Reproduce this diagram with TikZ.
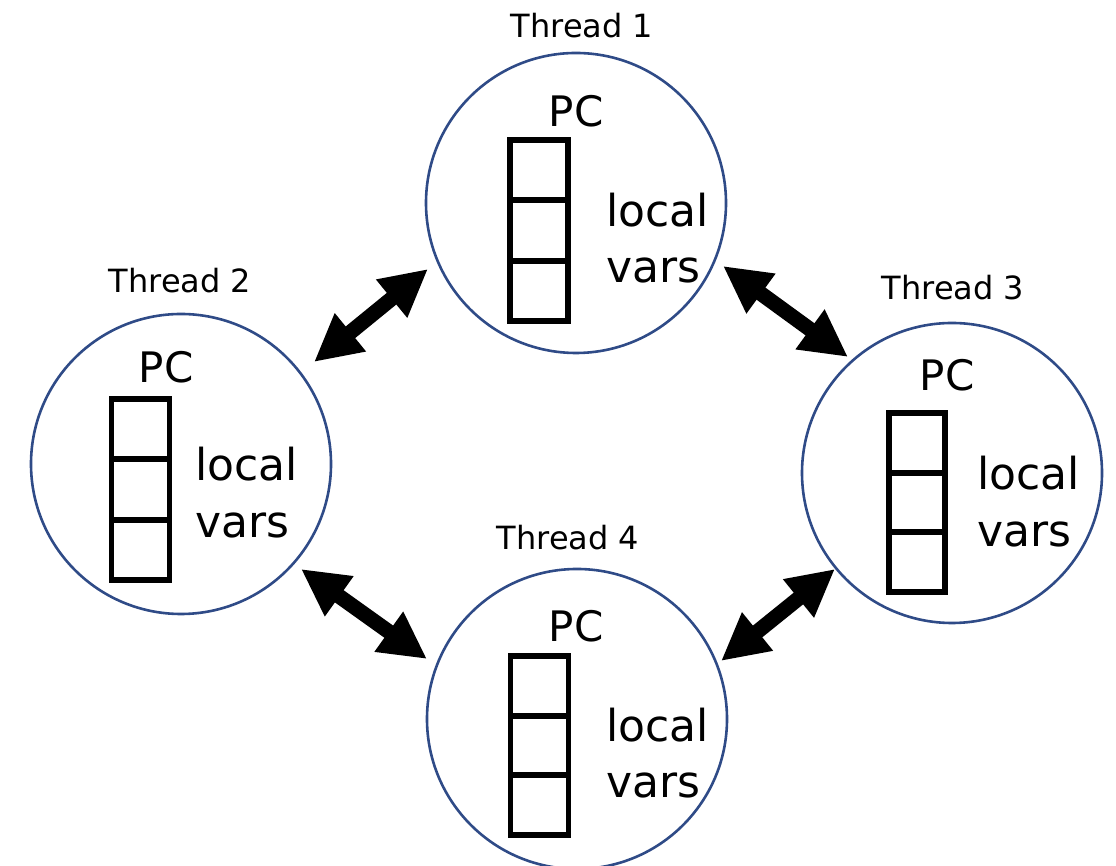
\documentclass[tikz,border=0pt]{standalone}
\usepackage{fontspec}
\setmainfont{DejaVu Sans}
\usetikzlibrary{arrows.meta}
\definecolor{ringblue}{RGB}{47,75,135}
\begin{document}
\begin{tikzpicture}[x=1pt,y=1pt,
  ring/.style={circle,draw=ringblue,line width=2.6pt,minimum size=300pt,inner sep=0pt},
  cell/.style={draw=black,line width=5.5pt,minimum width=58pt,minimum height=60pt,inner sep=0pt},
  title/.style={anchor=base,inner sep=0pt,font=\fontsize{32}{38}\selectfont},
  pclabel/.style={anchor=base,inner sep=0pt,font=\fontsize{42}{50}\selectfont},
  varlabel/.style={anchor=base west,inner sep=0pt,font=\fontsize{44}{52}\selectfont},
  link/.style={line width=15pt,{Triangle[length=47pt,width=46pt]}-{Triangle[length=47pt,width=46pt]}}
]
\useasboundingbox (0,0) rectangle (1116,866);
% circles
\node[ring] (t1) at (576,663) {};
\node[ring] (t2) at (181,402) {};
\node[ring] (t3) at (952,393) {};
\node[ring] (t4) at (577,147) {};
% titles
\node[title] (t1n) at (582,828) {Thread 1};
\node[title] (t2n) at (180,573) {Thread 2};
\node[title] (t3n) at (953,566) {Thread 3};
\node[title] (t4n) at (568,316) {Thread 4};
% PC labels
\node[pclabel] (t1pc) at (576,739) {PC};
\node[pclabel] (t2pc) at (166,483) {PC};
\node[pclabel] (t3pc) at (947,475) {PC};
\node[pclabel] (t4pc) at (576,224) {PC};
% stacks
\node[cell] (t1c1) at (539,695.8) {};
\node[cell] (t1c2) at (539,635.5) {};
\node[cell] (t1c3) at (539,575.2) {};
\node[cell] (t2c1) at (140.5,436.8) {};
\node[cell] (t2c2) at (140.5,376.5) {};
\node[cell] (t2c3) at (140.5,316.2) {};
\node[cell,minimum width=56pt] (t3c1) at (917,423.2) {};
\node[cell,minimum width=56pt] (t3c2) at (917,363.5) {};
\node[cell,minimum width=56pt] (t3c3) at (917,303.8) {};
\node[cell] (t4c1) at (539.5,180.2) {};
\node[cell] (t4c2) at (539.5,120.5) {};
\node[cell] (t4c3) at (539.5,60.8) {};
% local vars
\node[varlabel] (t1l) at (606,639) {local};
\node[varlabel] (t1v) at (606,583) {vars};
\node[varlabel] (t2l) at (195,385) {local};
\node[varlabel] (t2v) at (195,328) {vars};
\node[varlabel] (t3l) at (977,376) {local};
\node[varlabel] (t3v) at (977,319) {vars};
\node[varlabel] (t4l) at (606,124) {local};
\node[varlabel] (t4v) at (606,68) {vars};
% arrow end points
\path (t1.center) ++(-148,-66) coordinate (a12a);
\path (t2.center) ++(133,102) coordinate (a12b);
\path (t1.center) ++(147,-63) coordinate (a13a);
\path (t3.center) ++(-104,116) coordinate (a13b);
\path (t2.center) ++(120,-105) coordinate (a24a);
\path (t4.center) ++(-150,60) coordinate (a24b);
\path (t3.center) ++(-117,-96) coordinate (a43a);
\path (t4.center) ++(144,58) coordinate (a43b);
% arrows
\draw[link] (a12a) -- (a12b);
\draw[link] (a13a) -- (a13b);
\draw[link] (a24a) -- (a24b);
\draw[link] (a43a) -- (a43b);
\end{tikzpicture}
\end{document}
